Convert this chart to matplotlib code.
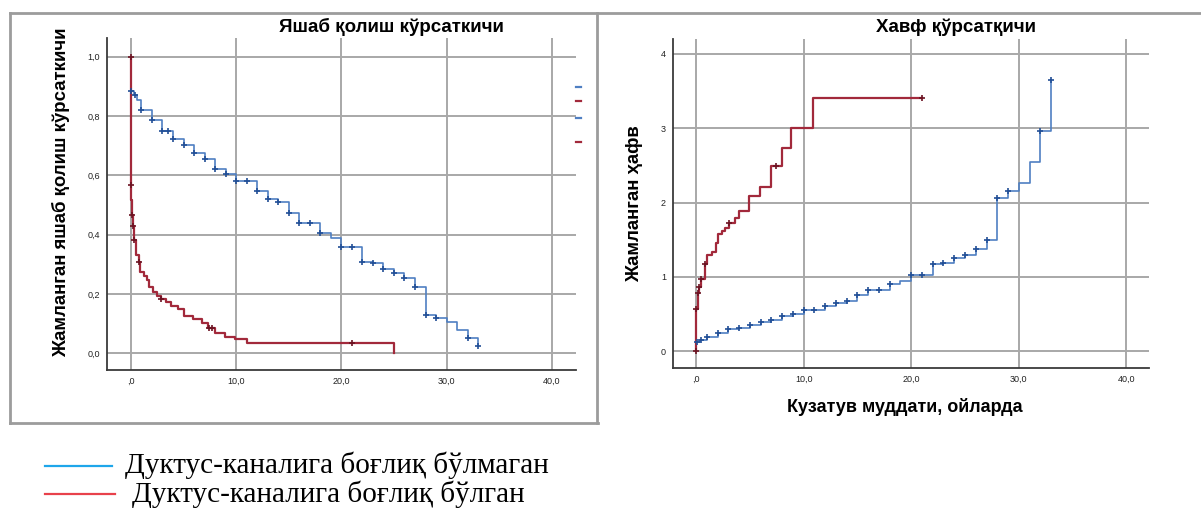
import numpy as np
import matplotlib
matplotlib.use('Agg')
import matplotlib.pyplot as plt
from matplotlib.lines import Line2D

W, H = 1201, 514

# axis ticks
month_ticks = [0, 10, 20, 30, 40]
month_labels = [',0', '10,0', '20,0', '30,0', '40,0']
surv_ticks = [0.0, 0.2, 0.4, 0.6, 0.8, 1.0]
surv_labels = ['0,0', '0,2', '0,4', '0,6', '0,8', '1,0']
haz_ticks = [0, 1, 2, 3, 4]
haz_labels = ['0', '1', '2', '3', '4']

# survival, no ductus involvement
blue_surv_t = [0, 0, 0.3, 0.6, 1, 2, 3, 4, 5, 6, 7, 8, 9, 10, 12, 13, 14, 15,
               16, 18, 19, 20, 22, 23, 24, 25, 26, 27, 28, 29, 30, 31, 32, 33]
blue_surv_v = [1.0, 0.885, 0.87, 0.855, 0.822, 0.786, 0.748, 0.722, 0.702,
               0.674, 0.654, 0.623, 0.604, 0.582, 0.548, 0.522, 0.509, 0.472,
               0.441, 0.405, 0.388, 0.360, 0.309, 0.303, 0.286, 0.272, 0.253,
               0.225, 0.129, 0.118, 0.107, 0.079, 0.053, 0.026]
blue_surv_cens = [0.05, 0.35, 1, 2, 3, 3.5, 4, 5, 6, 7, 8, 9, 10, 11, 12, 13,
                  14, 15, 16, 17, 18, 20, 21, 22, 23, 24, 25, 26, 27, 28, 29,
                  32, 33]

# survival, ductus involvement
red_surv_t = [0, 0, 0.05, 0.1, 0.18, 0.25, 0.5, 0.75, 0.86, 1.28, 1.5, 1.76,
              2.08, 2.46, 2.87, 3.35, 3.83, 4.5, 5.0, 5.9, 6.8, 7.35, 8.0,
              8.95, 9.9, 11.0, 25.0]
red_surv_v = [1.0, 0.567, 0.517, 0.465, 0.431, 0.381, 0.331, 0.308, 0.275,
              0.26, 0.247, 0.225, 0.208, 0.193, 0.182, 0.174, 0.160, 0.150,
              0.126, 0.115, 0.103, 0.086, 0.07, 0.056, 0.050, 0.034, 0.0]
red_surv_cens = [0, 0.1, 0.18, 0.25, 0.75, 2.9, 7.4, 7.7, 21.0]

# cumulative hazard, no ductus involvement
blue_haz_t = [0, 0, 0.4, 1, 2, 3, 4, 5, 6, 7, 8, 9, 10, 12, 13, 14, 15, 16,
              18, 19, 20, 22, 23, 24, 25, 26, 27, 28, 29, 30, 31, 32, 33]
blue_haz_v = [0, 0.126, 0.15, 0.193, 0.247, 0.295, 0.319, 0.36, 0.396, 0.42,
              0.48, 0.508, 0.55, 0.61, 0.652, 0.674, 0.752, 0.82, 0.905, 0.95,
              1.022, 1.177, 1.192, 1.255, 1.29, 1.375, 1.495, 2.055, 2.15,
              2.26, 2.55, 2.96, 3.65]
blue_haz_cens = [0.1, 0.5, 1, 2, 3, 4, 5, 6, 7, 8, 9, 10, 11, 12, 13, 14, 15,
                 16, 17, 18, 20, 21, 22, 23, 24, 25, 26, 27, 28, 29, 32, 33]

# cumulative hazard, ductus involvement
red_haz_t = [0, 0, 0.15, 0.3, 0.5, 0.83, 1.0, 1.53, 1.83, 2.05, 2.4, 2.66,
             3.06, 3.58, 4.04, 4.95, 5.93, 6.94, 7.95, 8.87, 10.9, 21.0]
red_haz_v = [0, 0.563, 0.78, 0.87, 0.97, 1.18, 1.30, 1.34, 1.45, 1.58, 1.62,
             1.66, 1.72, 1.79, 1.88, 2.09, 2.21, 2.49, 2.73, 3.0, 3.41, 3.41]
red_haz_cens = [0, 0.15, 0.3, 0.5, 0.83, 3.06, 7.4, 21.0]

legend_labels = ['Дуктус-каналига боғлиқ бўлмаган',
                 'Дуктус-каналига боғлиқ бўлган']

BLUE, BLUE_MK = '#4f7fc2', '#224f96'
RED, RED_MK = '#a2293b', '#6c1322'
GRID = '#a8a8a8'
SANS = ['Liberation Sans', 'DejaVu Sans']
SERIF = ['Liberation Serif', 'DejaVu Serif']


def px_box(x0, y0, x1, y1):
    return [x0 / W, 1 - y1 / H, (x1 - x0) / W, (y1 - y0) / H]


def fx(x):
    return x / W


def fy(y):
    return 1 - y / H


def on_curve(t, v, times):
    t = np.asarray(t)
    v = np.asarray(v)
    idx = np.searchsorted(t, times, side='right') - 1
    return v[idx]


def km(ax, t, v, cens, color, mcolor, lw, start_mark=False):
    ax.step(t, v, where='post', color=color, lw=lw, zorder=3)
    ax.plot(cens, on_curve(t, v, cens), ls='none', marker='+', ms=4,
            mew=1.2, color=mcolor, zorder=4)
    if start_mark:
        ax.plot(t[0], v[0], ls='none', marker='+', ms=4, mew=1.2,
                color=mcolor, zorder=4)


def style(ax, yt, yl):
    ax.set_xticks(month_ticks)
    ax.set_xticklabels(month_labels)
    ax.set_yticks(yt)
    ax.set_yticklabels(yl)
    ax.grid(True, color=GRID, lw=1.4, zorder=0)
    ax.set_axisbelow(True)
    for s in ('top', 'right'):
        ax.spines[s].set_visible(False)
    for s in ('left', 'bottom'):
        ax.spines[s].set_color('#3a3a3a')
        ax.spines[s].set_linewidth(1.3)
    ax.tick_params(length=0, labelsize=6.5, pad=5, colors='#222222')
    for lab in ax.get_xticklabels() + ax.get_yticklabels():
        lab.set_family(SANS)


fig = plt.figure(figsize=(W / 100, H / 100), dpi=100)

# survival panel
ax1 = fig.add_axes(px_box(107, 38, 576, 370))
style(ax1, surv_ticks, surv_labels)
km(ax1, blue_surv_t, blue_surv_v, blue_surv_cens, BLUE, BLUE_MK, 1.2)
km(ax1, red_surv_t, red_surv_v, red_surv_cens, RED, RED_MK, 1.6, start_mark=True)
ax1.set_xlim(-2.27, 42.3)
ax1.set_ylim(-0.056, 1.063)

# hazard panel
ax2 = fig.add_axes(px_box(673, 39, 1149, 368))
style(ax2, haz_ticks, haz_labels)
km(ax2, blue_haz_t, blue_haz_v, blue_haz_cens, BLUE, BLUE_MK, 1.2)
km(ax2, red_haz_t, red_haz_v, red_haz_cens, RED, RED_MK, 1.6, start_mark=True)
ax2.set_xlim(-2.14, 42.1)
ax2.set_ylim(-0.225, 4.2)

# titles and axis names
fig.text(fx(391), fy(27), 'Яшаб қолиш кўрсаткичи', family=SANS,
         weight='bold', fontsize=13.5, ha='center', va='center')
fig.text(fx(956), fy(27), 'Хавф қўрсатқичи', family=SANS,
         weight='bold', fontsize=13.5, ha='center', va='center')
fig.text(fx(61), fy(192), 'Жамланган яшаб қолиш кўрсаткичи', family=SANS,
         weight='bold', fontsize=13.4, rotation=90, ha='center', va='center')
fig.text(fx(635), fy(204), 'Жамланган ҳафв', family=SANS,
         weight='bold', fontsize=13.4, rotation=90, ha='center', va='center')
fig.text(fx(905), fy(407), 'Кузатув муддати, ойларда', family=SANS,
         weight='bold', fontsize=13, ha='center', va='center')

# panel frames
frame = dict(color='#9c9c9c', lw=2, transform=fig.transFigure)
fig.add_artist(Line2D([fx(10), fx(1201)], [fy(13), fy(13)], **frame))
fig.add_artist(Line2D([fx(10), fx(10)], [fy(13), fy(423)], **frame))
fig.add_artist(Line2D([fx(10), fx(598)], [fy(423), fy(423)], **frame))
fig.add_artist(Line2D([fx(597), fx(597)], [fy(13), fy(423)], **frame))

# clipped legend keys at the edge of the survival panel
for yy, c in zip([87, 101, 118, 142], [BLUE, RED, BLUE, RED]):
    fig.add_artist(Line2D([fx(576), fx(581)], [fy(yy), fy(yy)], color=c,
                          lw=1.6, transform=fig.transFigure))

# legend under the panels
fig.add_artist(Line2D([fx(45), fx(112)], [fy(466), fy(466)], color='#1ea6ea',
                      lw=1.6, transform=fig.transFigure))
fig.add_artist(Line2D([fx(45), fx(115)], [fy(494), fy(494)], color='#e8414b',
                      lw=1.6, transform=fig.transFigure))
fig.text(fx(125), fy(465), legend_labels[0], family=SERIF, fontsize=21,
         ha='left', va='center')
fig.text(fx(132), fy(494), legend_labels[1], family=SERIF, fontsize=21,
         ha='left', va='center')

fig.savefig('out.png', dpi=100)
